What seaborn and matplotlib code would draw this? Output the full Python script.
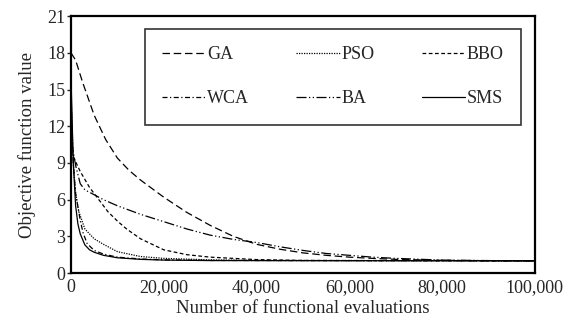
import matplotlib
matplotlib.use("Agg")
import matplotlib.pyplot as plt
import seaborn as sns

# Convergence curves (evaluations, objective value)
ga_x = [0, 1000, 2500, 5000, 7500, 10000, 12500, 15000, 20000, 25000, 30000, 35000, 40000,
        45000, 50000, 55000, 60000, 65000, 70000, 80000, 90000, 100000]
ga_y = [18, 17.4, 15.6, 12.9, 10.9, 9.4, 8.4, 7.6, 6.2, 4.95, 3.9, 3.0, 2.35,
        1.95, 1.65, 1.45, 1.3, 1.2, 1.12, 1.04, 1.01, 1.0]

pso_x = [0, 500, 1000, 1700, 3000, 5000, 7000, 10000, 15000, 20000, 30000, 40000, 100000]
pso_y = [15, 9, 6.5, 5.0, 3.6, 2.8, 2.35, 1.75, 1.35, 1.2, 1.08, 1.03, 1.0]

bbo_x = [0, 1000, 2000, 4000, 6000, 8000, 10000, 12000, 15000, 20000, 25000, 30000,
         40000, 50000, 100000]
bbo_y = [10, 9.1, 8.3, 7.0, 6.0, 5.0, 4.25, 3.6, 2.8, 1.9, 1.5, 1.3,
         1.1, 1.03, 1.0]

wca_x = [0, 500, 1000, 2000, 2600, 3500, 5000, 7000, 10000, 15000, 20000, 30000, 100000]
wca_y = [14, 9, 6.5, 4.3, 3.3, 2.4, 1.85, 1.55, 1.3, 1.15, 1.08, 1.03, 1.0]

ba_x = [0, 1000, 2000, 3000, 5000, 7000, 10000, 15000, 20000, 25000, 30000, 35000,
        40000, 45000, 50000, 55000, 60000, 65000, 70000, 80000, 90000, 100000]
ba_y = [11, 8.8, 7.3, 6.8, 6.4, 6.0, 5.5, 4.8, 4.2, 3.6, 3.1, 2.75,
        2.5, 2.15, 1.85, 1.6, 1.45, 1.3, 1.2, 1.06, 1.02, 1.0]

sms_x = [0, 500, 1000, 1500, 2000, 3000, 4000, 5000, 7000, 10000, 15000, 20000, 30000, 100000]
sms_y = [16, 9, 5.5, 4.0, 3.2, 2.3, 1.9, 1.7, 1.45, 1.25, 1.12, 1.06, 1.02, 1.0]

series = {
    "GA": (ga_x, ga_y, (0, (6, 3))),
    "WCA": (wca_x, wca_y, (0, (4, 2, 1, 2))),
    "PSO": (pso_x, pso_y, (0, (1, 1))),
    "BA": (ba_x, ba_y, (0, (8, 2, 1, 2, 1, 2))),
    "BBO": (bbo_x, bbo_y, (0, (3, 2))),
    "SMS": (sms_x, sms_y, "-"),
}

sns.set_style("white")
plt.rcParams["font.family"] = ["Liberation Serif", "DejaVu Serif"]

fig = plt.figure(figsize=(5.77, 3.22), dpi=100)
ax = fig.add_axes([0.123, 0.152, 0.804, 0.798])

for name, (xs, ys, ls) in series.items():
    sns.lineplot(x=xs, y=ys, ax=ax, color="black", lw=0.9, linestyle=ls, label=name)

ax.set_xlim(0, 100000)
ax.set_ylim(0, 21)
ax.set_xticks([0, 20000, 40000, 60000, 80000, 100000])
ax.set_xticklabels(["0", "20,000", "40,000", "60,000", "80,000", "100,000"])
ax.set_yticks([0, 3, 6, 9, 12, 15, 18, 21])
ax.tick_params(axis="y", direction="out", length=3, width=1, labelsize=13, pad=1, left=True)
ax.tick_params(axis="x", length=0, labelsize=13, pad=4)
ax.set_xlabel("Number of functional evaluations", fontsize=13.5, labelpad=3)
ax.set_ylabel("Objective function value", fontsize=13.5, labelpad=8)
for sp in ax.spines.values():
    sp.set_color("black")
    sp.set_linewidth(1.6)

leg = ax.legend(ncol=3, loc="upper left", bbox_to_anchor=(0.159, 0.580, 0.811, 0.369),
                mode="expand", fontsize=13, frameon=True, fancybox=False,
                handlelength=2.4, handletextpad=0.1, borderpad=0.95,
                labelspacing=1.5, columnspacing=1.0, borderaxespad=0)
leg.get_frame().set_edgecolor("black")
leg.get_frame().set_linewidth(1.2)
for line in leg.get_lines():
    line.set_linewidth(0.9)

fig.savefig("out.png", dpi=100)
